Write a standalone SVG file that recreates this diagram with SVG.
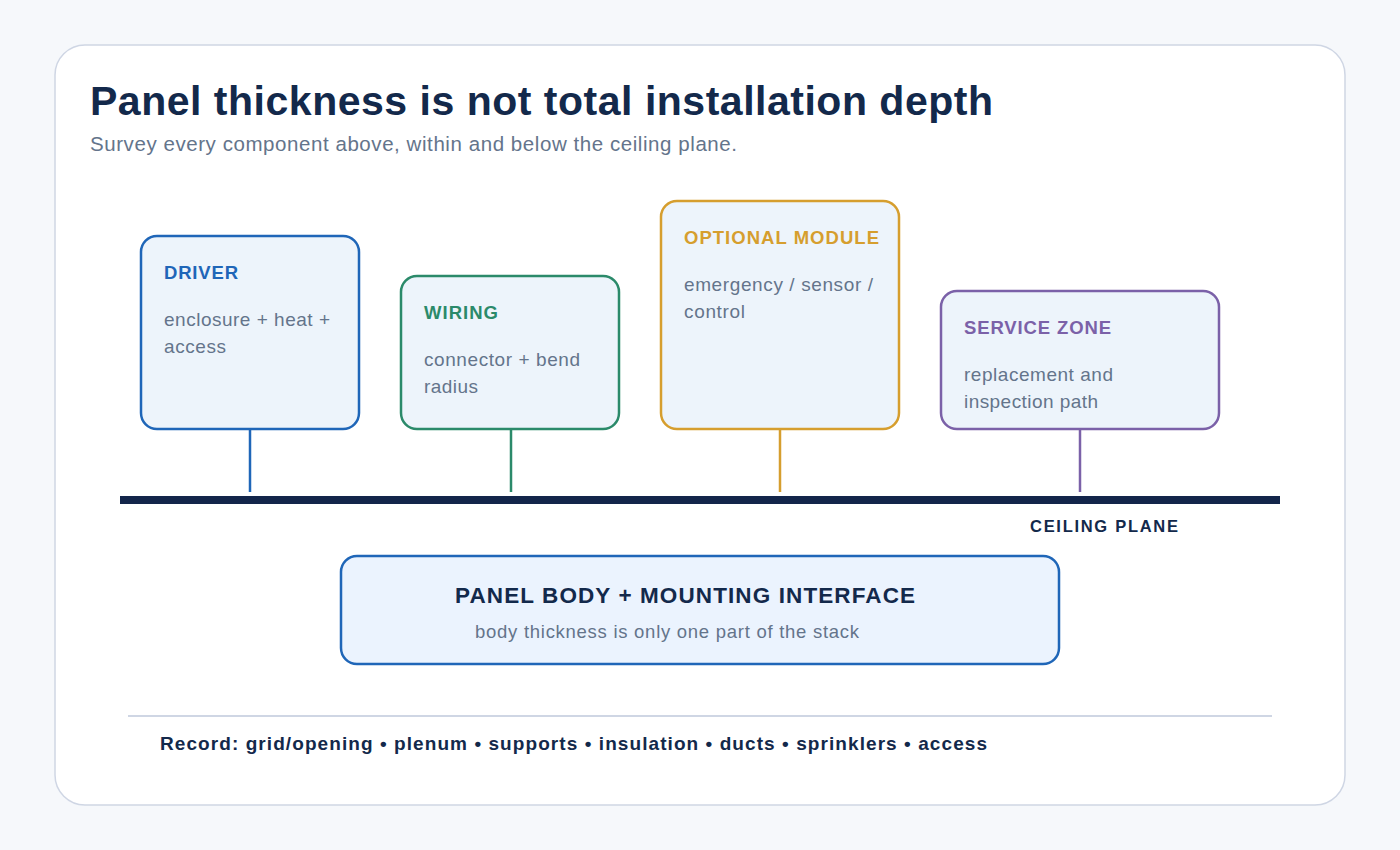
<svg xmlns="http://www.w3.org/2000/svg" width="1400" height="850" viewBox="0 0 1400 850">
<style>
text{font-family:"Liberation Sans",Arial,sans-serif}
.card{fill:#edf4fb;stroke-width:2.5}
.h{font-size:18.5px;font-weight:bold}
.b{font-size:19px;fill:#64748b}
.conn{stroke-width:2.5;fill:none}
</style>
<rect width="1400" height="850" fill="#f6f8fb"/>
<rect x="55" y="45" width="1290" height="760" rx="30" fill="#ffffff" stroke="#cfd6e4" stroke-width="1.5"/>
<text x="90" y="115" font-size="41" font-weight="bold" fill="#13294b" textLength="903" lengthAdjust="spacing">Panel thickness is not total installation depth</text>
<text x="90" y="151" font-size="20.5" fill="#64748b" textLength="647" lengthAdjust="spacing">Survey every component above, within and below the ceiling plane.</text>
<g id="connectors">
<line class="conn" x1="250" y1="429" x2="250" y2="492" stroke="#1f66b8"/>
<line class="conn" x1="511" y1="429" x2="511" y2="492" stroke="#2b8a6a"/>
<line class="conn" x1="780" y1="429" x2="780" y2="492" stroke="#d69e2e"/>
<line class="conn" x1="1080" y1="429" x2="1080" y2="492" stroke="#7b61a8"/>
</g>
<g id="ceiling">
<rect x="120" y="496" width="1160" height="8" fill="#13254a"/>
<text x="1030" y="532" font-size="16.5" font-weight="bold" fill="#13294b" textLength="148" lengthAdjust="spacing">CEILING PLANE</text>
</g>
<g id="driver">
<rect class="card" x="141" y="236" width="218" height="193" rx="16" stroke="#1f66b8"/>
<text class="h" x="164" y="279" fill="#1f66b8" textLength="74" lengthAdjust="spacing">DRIVER</text>
<text class="b" x="164" y="326" textLength="166" lengthAdjust="spacing">enclosure + heat +</text>
<text class="b" x="164" y="353" textLength="62" lengthAdjust="spacing">access</text>
</g>
<g id="wiring">
<rect class="card" x="401" y="276" width="218" height="153" rx="16" stroke="#2b8a6a"/>
<text class="h" x="424" y="319" fill="#2b8a6a" textLength="74" lengthAdjust="spacing">WIRING</text>
<text class="b" x="424" y="366" textLength="156" lengthAdjust="spacing">connector + bend</text>
<text class="b" x="424" y="393" textLength="54" lengthAdjust="spacing">radius</text>
</g>
<g id="optional">
<rect class="card" x="661" y="201" width="238" height="228" rx="16" stroke="#d69e2e"/>
<text class="h" x="684" y="244" fill="#d69e2e" textLength="195" lengthAdjust="spacing">OPTIONAL MODULE</text>
<text class="b" x="684" y="291" textLength="189" lengthAdjust="spacing">emergency / sensor /</text>
<text class="b" x="684" y="318" textLength="61" lengthAdjust="spacing">control</text>
</g>
<g id="service">
<rect class="card" x="941" y="291" width="278" height="138" rx="16" stroke="#7b61a8"/>
<text class="h" x="964" y="334" fill="#7b61a8" textLength="147" lengthAdjust="spacing">SERVICE ZONE</text>
<text class="b" x="964" y="381" textLength="149" lengthAdjust="spacing">replacement and</text>
<text class="b" x="964" y="408" textLength="134" lengthAdjust="spacing">inspection path</text>
</g>
<g id="panel">
<rect x="341" y="556" width="718" height="108" rx="16" fill="#ebf3fe" stroke="#1f66b8" stroke-width="2.5"/>
<text x="455" y="603" font-size="22.5" font-weight="bold" fill="#13294b" textLength="460" lengthAdjust="spacing">PANEL BODY + MOUNTING INTERFACE</text>
<text x="475" y="638" font-size="18.5" fill="#64748b" textLength="384" lengthAdjust="spacing">body thickness is only one part of the stack</text>
</g>
<line x1="128" y1="716" x2="1272" y2="716" stroke="#cfd6e4" stroke-width="2"/>
<text x="160" y="750" font-size="19" font-weight="bold" fill="#13294b" textLength="827" lengthAdjust="spacing">Record: grid/opening • plenum • supports • insulation • ducts • sprinklers • access</text>
</svg>
